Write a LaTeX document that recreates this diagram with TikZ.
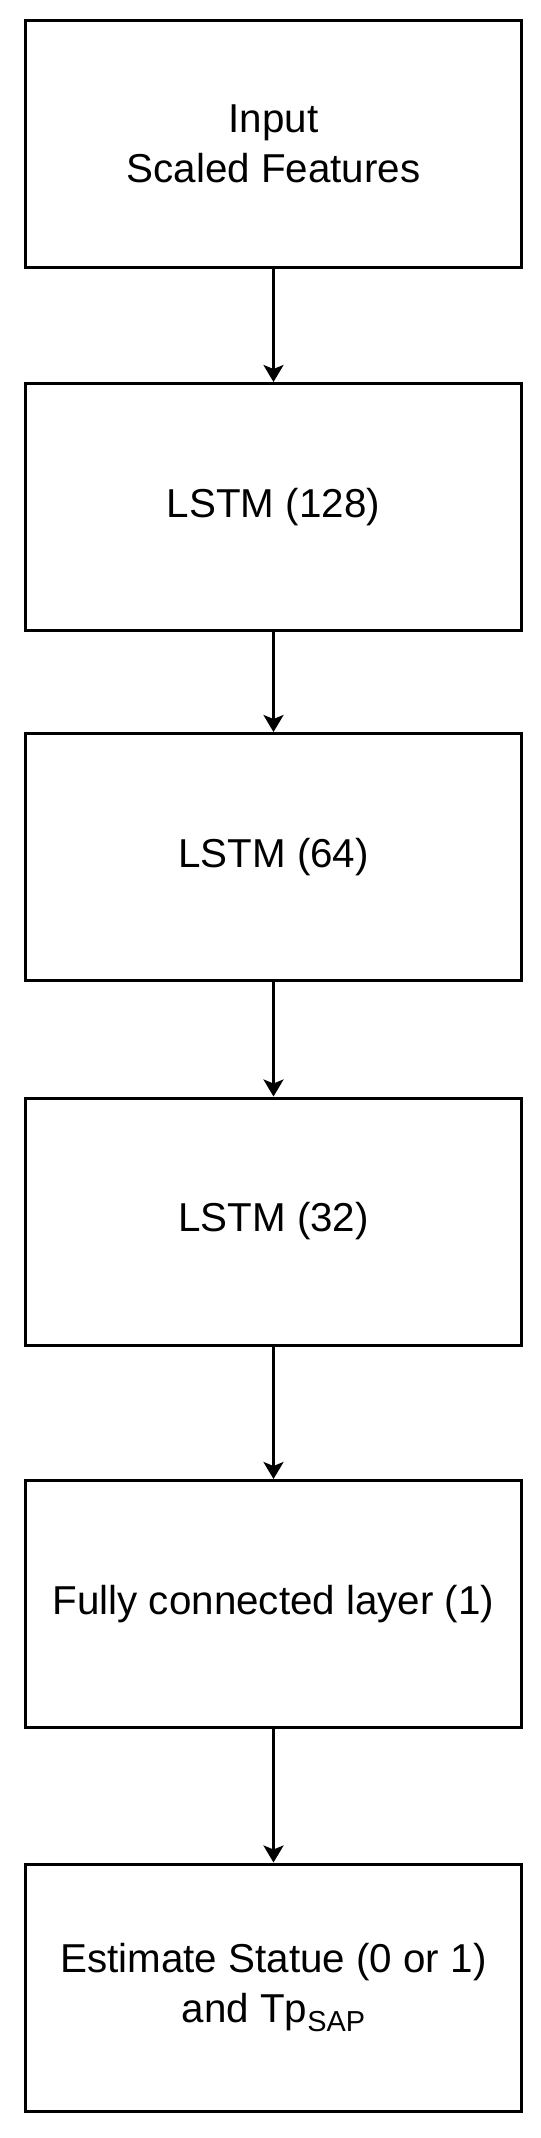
\documentclass[tikz,border=0pt]{standalone}
\usepackage{fontspec}
\setmainfont{Liberation Sans}
\usetikzlibrary{arrows.meta}
\tikzset{
  layerbox/.style={draw=black, line width=3bp, rectangle, minimum width=496bp, minimum height=247bp, inner sep=0pt, align=center, font=\fontsize{40.5}{50}\selectfont, fill=white},
  flowarrow/.style={draw=black, line width=3bp, -{Stealth[width=20bp, length=17bp, inset=4bp]}}
}
\begin{document}
\begin{tikzpicture}[x=1bp, y=-1bp]
\useasboundingbox (0,0) rectangle (541,2138);
\node[layerbox] (in) at (273.5,144) {Input\\Scaled Features};
\node[layerbox] (l1) at (273.5,507) {LSTM (128)};
\node[layerbox] (l2) at (273.5,857) {LSTM (64)};
\node[layerbox] (l3) at (273.5,1221.5) {LSTM (32)};
\node[layerbox] (fc) at (273.5,1604) {Fully connected layer (1)};
\node[layerbox] (out) at (273.5,1987.5) {Estimate Statue (0 or 1)\\and Tp\raisebox{-9bp}{\fontsize{29}{29}\selectfont SAP}};
\draw[flowarrow] (in) -- (l1);
\draw[flowarrow] (l1) -- (l2);
\draw[flowarrow] (l2) -- (l3);
\draw[flowarrow] (l3) -- (fc);
\draw[flowarrow] (fc) -- (out);
\end{tikzpicture}
\end{document}
